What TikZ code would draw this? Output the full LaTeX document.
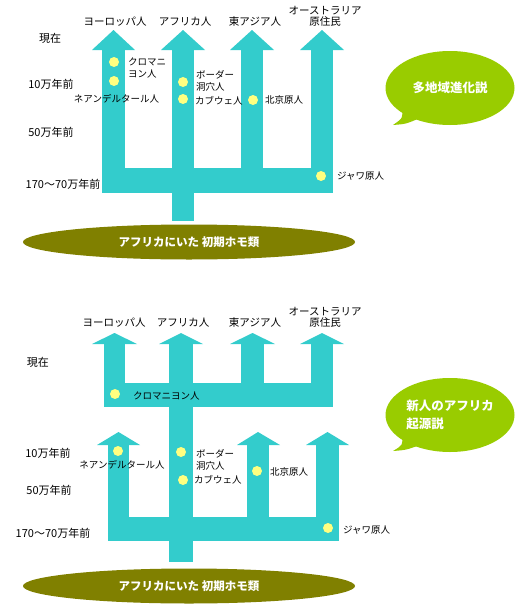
\documentclass[tikz,border=0pt]{standalone}
\usepackage{fontspec}
\setmainfont{Noto Sans CJK JP}
\usetikzlibrary{shapes.geometric}
\definecolor{teal1}{HTML}{33CCCC}
\definecolor{yellow1}{HTML}{FFFF80}
\definecolor{green1}{HTML}{99CC00}
\definecolor{olive1}{HTML}{808000}

\begin{document}
\begin{tikzpicture}[x=1pt, y=-1pt]
\tikzstyle{fossil} = [fill=yellow1, circle, inner sep=0pt, minimum size=10pt];
\tikzstyle{site} = [anchor=west, inner sep=0pt, align=left, font=\fontsize{9.5}{12}\selectfont];
\tikzstyle{era} = [inner sep=0pt, font=\fontsize{11}{13}\selectfont];
\tikzstyle{people} = [inner sep=0pt, align=center, font=\fontsize{10.5}{13}\selectfont];
\tikzstyle{root} = [ellipse, fill=olive1, text=white, minimum width=332pt, minimum height=35pt, inner sep=0pt, font=\bfseries\fontsize{11.5}{13}\selectfont];
\tikzstyle{theory} = [ellipse, fill=green1, text=white, minimum width=129pt, minimum height=74pt, inner sep=0pt, font=\bfseries\fontsize{12.5}{18}\selectfont];

\useasboundingbox (0,0) rectangle (520,608);

% upper picture: multiregional
\fill [teal1] (102,168) rectangle (333,193);
\fill [teal1] (172,193) rectangle (194,221);
\fill [teal1] (102,50) rectangle (125,168);
\fill [teal1] (92,50) -- (113.5,30) -- (135,50) -- cycle;
\fill [teal1] (172,50) rectangle (194,168);
\fill [teal1] (161,50) -- (183,30) -- (205,50) -- cycle;
\fill [teal1] (241,50) rectangle (263,168);
\fill [teal1] (230,50) -- (252,30) -- (274,50) -- cycle;
\fill [teal1] (311,50) rectangle (333,168);
\fill [teal1] (300,50) -- (322,30) -- (344,50) -- cycle;

\node [people] (eu1) at (115,22) {ヨーロッパ人};
\node [people] (af1) at (185,22) {アフリカ人};
\node [people] (ea1) at (255,22) {東アジア人};
\node [people] (au1) at (325,16) {オーストラリア\\[-2pt]原住民};

\node [era] (now1) at (50,38) {現在};
\node [era] (k10a) at (51,84) {10万年前};
\node [era] (k50a) at (51,132) {50万年前};
\node [era] (k170a) at (63,184) {170〜70万年前};

\node [fossil] (f1) at (114,62) {};
\node [fossil] (f2) at (114,81) {};
\node [fossil] (f3) at (183,82) {};
\node [fossil] (f4) at (183,99) {};
\node [fossil] (f5) at (253,100) {};
\node [fossil] (f6) at (321,176) {};

\node [site] (cro1) at (128,68) {クロマニ\\ヨン人};
\node [site, anchor=center] (nea1) at (116.5,99) {ネアンデルタール人};
\node [site] (bor1) at (196,81) {ボーダー\\洞穴人};
\node [site] (kab1) at (195,101) {カブウェ人};
\node [site] (pek1) at (265,100) {北京原人};
\node [site] (jav1) at (337,176) {ジャワ原人};

\node [root] (root1) at (189,242) {アフリカにいた 初期ホモ類};

\fill [green1] (402,108) .. controls (403,118) .. (393,125) .. controls (406,124) .. (420,118) -- cycle;
\node [theory] (multi) at (450,88) {多地域進化説};

% lower picture: out of Africa
\fill [teal1] (104,383) rectangle (333,407);
\fill [teal1] (104,344) rectangle (125,383);
\fill [teal1] (92,344) -- (114.5,333) -- (137,344) -- cycle;
\fill [teal1] (169,344) rectangle (193,562);
\fill [teal1] (159,344) -- (181,333) -- (203,344) -- cycle;
\fill [teal1] (241,344) rectangle (264,383);
\fill [teal1] (230,344) -- (252.5,333) -- (275,344) -- cycle;
\fill [teal1] (311,344) rectangle (333,383);
\fill [teal1] (300,344) -- (322,333) -- (344,344) -- cycle;

\fill [teal1] (108,517) rectangle (339,541);
\fill [teal1] (108,445) rectangle (129,517);
\fill [teal1] (97,445) -- (118.5,432) -- (140,445) -- cycle;
\fill [teal1] (247,445) rectangle (269,517);
\fill [teal1] (237,445) -- (258,432) -- (280,445) -- cycle;
\fill [teal1] (316,445) rectangle (339,517);
\fill [teal1] (306,445) -- (327.5,432) -- (349,445) -- cycle;

\node [people] (eu2) at (114,323) {ヨーロッパ人};
\node [people] (af2) at (183,323) {アフリカ人};
\node [people] (ea2) at (255,323) {東アジア人};
\node [people] (au2) at (325,317) {オーストラリア\\[-2pt]原住民};

\node [era] (now2) at (38,362) {現在};
\node [era] (k10b) at (48,453) {10万年前};
\node [era] (k50b) at (49,490) {50万年前};
\node [era] (k170b) at (53,533) {170〜70万年前};

\node [fossil] (g1) at (115,394) {};
\node [fossil] (g2) at (118,451) {};
\node [fossil] (g3) at (181,452) {};
\node [fossil] (g4) at (183,480) {};
\node [fossil] (g5) at (257,471) {};
\node [fossil] (g6) at (328,528) {};

\node [site] (cro2) at (133,396) {クロマニヨン人};
\node [site, anchor=center] (nea2) at (122,465) {ネアンデルタール人};
\node [site] (bor2) at (196,460) {ボーダー\\洞穴人};
\node [site] (kab2) at (194,480) {カブウェ人};
\node [site] (pek2) at (270,472) {北京原人};
\node [site] (jav2) at (343,530) {ジャワ原人};

\node [root] (root2) at (189,586) {アフリカにいた 初期ホモ類};

\fill [green1] (402,435) .. controls (403,445) .. (393,451) .. controls (406,450) .. (420,445) -- cycle;
\node [theory, align=left] (ooa) at (450,415) {新人のアフリカ\\起源説};
\end{tikzpicture}
\end{document}
